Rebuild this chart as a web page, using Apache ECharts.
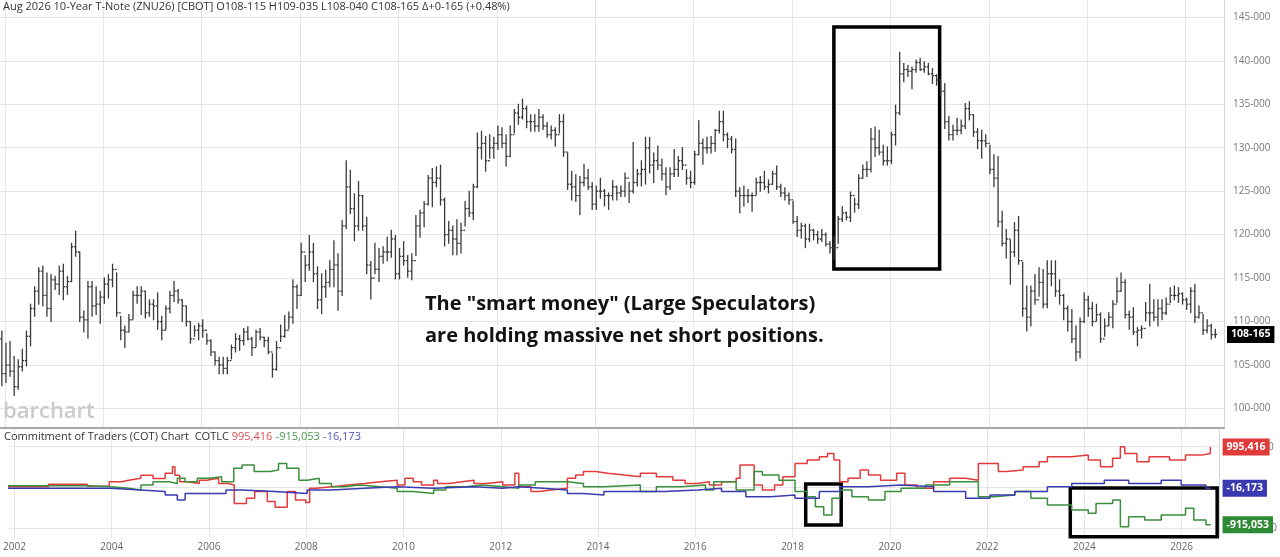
<!DOCTYPE html>
<html><head><meta charset="utf-8">
<script src="https://cdn.jsdelivr.net/npm/echarts@6/dist/echarts.min.js"></script>
<style>html,body{margin:0;padding:0;background:#fff}#c{width:1280px;height:557px}</style>
</head><body><div id="c"></div>
<script>
// ---- Monthly OHLC, first bar Dec 2001, last bar Aug 2026 ----
const firstBarYear = 2001, firstBarMonth = 12;
const firstOpen = 108.0;
const high = [
108.9,
107.5,107.7,106.0,105.6,106.8,108.9,112.0,114.0,116.2,116.4,115.6,115.4,
115.2,116.4,116.6,115.2,119.0,120.4,118.0,111.2,114.6,114.6,114.0,113.5,
115.0,115.4,116.6,115.6,110.6,109.5,110.8,113.5,114.0,114.0,113.5,112.5,
112.5,113.3,110.6,111.8,113.5,114.6,113.7,112.5,111.8,110.0,109.5,109.8,
110.2,108.6,107.9,106.5,105.9,105.9,105.9,107.3,108.6,108.4,109.2,109.4,
108.2,109.0,109.2,108.2,108.2,106.3,107.7,109.6,110.7,111.1,114.8,114.2,
119.0,117.6,119.9,119.0,116.3,115.5,115.9,117.0,119.3,117.8,121.6,128.5,
127.4,124.7,126.1,124.5,122.0,116.9,119.0,118.4,118.6,119.7,120.5,119.9,
118.4,119.2,117.6,117.8,122.2,122.8,123.8,126.8,127.6,127.8,128.0,124.2,
121.5,121.0,121.7,121.3,123.8,125.0,125.8,131.7,131.9,131.3,131.5,131.2,
132.5,132.3,131.5,132.5,134.4,135.0,135.6,134.8,133.8,133.8,134.4,133.8,
132.9,132.5,132.3,133.8,133.8,129.4,127.3,126.9,126.7,128.1,127.5,126.0,
125.6,126.5,125.2,124.8,126.2,125.6,125.6,127.1,126.0,130.6,127.5,128.5,
131.2,131.2,129.4,130.2,128.7,127.7,127.7,129.8,129.0,130.0,127.5,127.3,
129.6,133.1,131.0,131.2,131.3,132.1,134.2,134.2,131.7,131.3,131.0,125.4,
125.6,125.2,124.8,126.5,126.7,127.3,126.3,127.3,127.9,125.8,125.4,124.8,
123.8,122.1,121.3,121.2,121.2,120.6,120.4,120.6,120.2,119.2,119.8,122.1,
123.2,122.6,124.9,124.2,126.9,128.0,128.4,132.2,132.4,132.0,130.3,130.1,
131.8,134.9,141.0,139.7,139.5,139.3,140.1,140.3,139.9,139.7,139.1,138.4,
137.8,137.4,133.6,132.6,133.4,133.2,135.1,135.3,133.8,132.2,132.0,131.5,
130.3,129.2,129.0,122.7,120.6,119.4,121.4,122.1,116.8,114.1,114.1,115.4,
116.2,116.0,117.0,117.0,117.0,114.8,113.1,111.8,111.4,109.5,110.4,113.3,
112.9,112.2,112.0,111.0,110.3,111.0,112.4,115.0,115.6,114.8,111.2,111.6,
109.3,109.5,112.2,114.3,112.5,112.5,112.5,112.7,113.9,114.1,113.9,113.3,
112.7,113.9,114.3,111.8,110.8,110.2,109.7,109.109
];
const low = [
102.6,
103.0,103.7,101.5,102.2,104.3,104.9,107.2,110.6,112.0,111.8,110.6,110.0,
113.7,113.1,112.5,113.1,114.6,117.5,110.0,108.8,108.1,110.6,110.8,109.8,
112.1,112.7,114.0,110.6,107.9,107.0,108.8,110.3,112.1,110.8,110.4,110.6,
110.2,109.1,107.9,109.1,111.0,112.3,112.1,110.0,109.5,107.5,108.3,107.9,
108.2,107.4,106.1,105.0,104.0,104.0,104.0,105.7,106.5,106.7,107.3,107.9,
106.1,107.1,107.9,107.1,106.3,103.6,104.4,107.7,108.2,109.2,109.8,111.5,
113.0,114.6,115.9,114.6,111.5,110.9,112.8,114.0,114.0,111.3,113.0,120.7,
122.4,119.3,120.5,120.5,115.5,112.6,115.5,114.6,116.7,117.0,117.4,114.9,
114.9,116.5,115.1,114.8,117.6,119.7,120.9,123.4,123.2,125.5,123.4,118.7,
119.0,117.7,117.7,117.9,121.0,122.1,121.7,125.4,128.7,127.3,128.8,128.8,
129.8,130.0,127.9,129.0,131.7,132.7,133.3,132.3,131.9,131.9,131.9,132.1,
131.2,131.0,130.2,131.7,129.0,125.2,124.0,123.8,122.3,125.6,125.2,122.9,
122.9,124.2,123.3,122.9,124.0,124.0,124.4,124.4,123.7,124.8,125.6,125.6,
125.8,127.1,126.0,127.5,126.3,124.6,125.2,126.7,126.7,127.5,125.8,125.4,
125.8,129.2,128.1,129.4,129.4,129.6,131.7,130.8,130.0,129.4,124.4,122.5,
123.3,123.7,122.7,124.6,125.0,125.2,124.8,125.8,125.2,124.4,124.0,123.5,
121.3,119.8,119.6,118.5,119.2,119.4,119.0,119.2,118.7,117.9,117.2,119.0,
121.5,121.7,121.5,122.6,123.0,126.5,126.7,127.2,129.0,129.2,128.0,128.0,
128.2,130.3,133.8,137.6,138.2,136.8,138.7,138.9,138.7,138.4,137.4,137.2,
136.0,132.2,130.9,130.9,131.5,131.6,132.2,133.2,131.3,129.9,128.8,130.1,
127.0,125.5,120.9,118.7,117.3,114.3,117.5,116.6,110.6,108.9,109.5,112.0,
112.9,111.6,111.6,114.1,112.9,112.0,110.2,108.9,107.6,105.5,105.8,109.9,
110.6,109.5,110.1,107.6,108.3,109.5,109.3,112.2,113.5,110.4,109.1,108.5,
107.2,108.1,110.1,109.5,110.1,109.5,110.2,110.8,112.2,112.5,112.2,112.0,
111.4,111.0,109.9,110.4,108.5,108.7,108.0,108.125
];
const close = [
104.0,
105.0,104.3,102.5,104.8,105.5,108.3,111.5,113.5,115.8,113.0,111.5,114.8,
114.3,115.8,114.0,114.6,118.6,118.0,110.5,110.2,114.0,111.8,112.0,112.8,
114.3,114.8,116.0,111.0,109.0,108.8,110.2,113.0,113.0,113.5,111.0,112.0,
111.8,110.0,109.0,111.5,113.0,113.5,112.5,111.8,110.0,108.0,109.0,109.5,
109.0,107.8,106.5,105.5,105.0,104.6,105.5,107.0,108.0,107.8,108.8,108.0,
107.0,108.8,108.2,107.8,106.5,104.5,107.0,108.3,109.0,110.5,114.0,113.0,
118.0,116.5,118.0,115.5,112.5,114.0,114.5,116.0,116.5,113.5,121.0,125.5,
123.0,121.0,124.5,121.0,116.5,115.0,116.0,117.5,118.0,118.0,119.5,115.5,
117.5,117.0,115.8,117.0,121.0,122.5,123.5,126.5,126.0,126.5,124.0,120.0,
120.5,119.5,119.0,120.5,123.0,122.5,125.5,130.0,130.5,128.5,130.0,130.5,
131.5,130.5,129.0,131.5,134.0,133.5,134.5,133.0,133.0,132.5,133.5,132.5,
131.5,132.0,131.5,133.0,129.5,125.8,125.5,124.5,126.0,126.5,125.5,123.5,
125.0,125.0,124.5,124.5,125.5,124.8,125.0,126.5,125.0,126.0,127.0,127.5,
130.0,128.0,128.5,128.0,127.0,125.5,127.0,127.5,128.5,128.0,126.5,126.0,
129.2,130.5,130.0,130.0,130.5,132.0,133.0,131.5,131.0,129.8,125.0,124.5,
124.5,124.5,124.5,126.0,126.0,125.5,125.8,127.0,125.5,124.8,124.5,124.0,
121.5,120.5,121.0,119.5,120.5,120.0,119.5,120.0,118.9,118.5,118.5,121.8,
122.5,122.0,124.5,123.5,126.5,127.5,127.5,131.0,130.0,129.5,128.5,128.5,
131.5,134.0,138.5,139.0,138.8,139.0,139.8,139.0,139.3,138.5,138.3,137.8,
136.5,133.0,131.5,132.0,132.0,132.5,134.5,133.8,131.8,130.8,130.8,130.5,
127.5,126.5,121.5,119.0,119.5,118.0,120.5,117.0,111.5,110.5,113.5,112.5,
114.5,112.0,115.5,115.5,113.5,113.0,111.5,110.0,108.0,106.5,110.0,112.5,
111.5,110.0,110.8,108.0,109.5,110.5,112.0,113.5,114.5,110.8,110.5,108.8,
109.0,109.2,111.0,111.0,110.5,111.5,111.0,112.0,113.0,113.0,113.2,112.5,
112.0,113.5,110.5,111.0,109.0,109.5,108.5,108.515625
];

// ---- COT step series (time in years, value in thousands of contracts) ----
const redT = [2001.85,2002.7,2003.5,2003.95,2004.2,2004.35,2004.6,2004.85,2005.1,2005.25,2005.3,2005.4,2005.55,2005.8,2005.95,2006.2,2006.4,2006.52,2006.77,2006.94,2007.2,2007.36,2007.61,2007.78,2007.99,2008.07,2008.2,2008.53,2008.86,2009.2,2009.53,2009.87,2010.03,2010.2,2010.37,2010.62,2010.7,2010.95,2011.2,2011.45,2011.7,2012.04,2012.29,2012.37,2012.62,2012.79,2013.04,2013.37,2013.54,2013.7,2013.95,2014.2,2014.54,2014.87,2015.2,2015.54,2015.79,2016.04,2016.29,2016.54,2016.84,2016.92,2017.21,2017.38,2017.63,2017.8,2018.05,2018.3,2018.55,2018.72,2018.85,2018.97,2019.14,2019.39,2019.56,2019.81,2020.14,2020.31,2020.56,2020.9,2021.23,2021.56,2021.82,2022.23,2022.4,2022.74,2023.07,2023.24,2023.74,2024.08,2024.33,2024.58,2024.74,2024.83,2025.08,2025.33,2025.75,2026.08,2026.42,2026.59,2026.6];
const redV = [20,80,30,140,180,225,300,220,350,510,300,140,100,180,225,100,60,-390,-265,-100,-345,-485,-100,-305,-370,-20,20,60,100,140,180,60,225,140,60,180,100,140,180,100,140,60,350,20,-100,-60,-20,225,305,390,350,305,265,350,265,180,100,140,60,140,225,550,60,-60,60,265,590,675,755,835,675,140,225,430,305,180,350,60,-20,140,225,180,590,390,430,510,630,755,795,675,510,715,1000,835,630,755,675,795,835,995.416,995.416];
const greenT = [2001.85,2003.5,2003.98,2004.35,2004.6,2004.85,2005.18,2005.35,2005.51,2005.76,2006.01,2006.26,2006.51,2006.68,2006.93,2007.26,2007.43,2007.6,2007.85,2008.02,2008.27,2008.52,2008.77,2009.1,2009.53,2009.87,2010.2,2010.62,2010.87,2011.29,2011.62,2012.04,2012.37,2012.71,2013.37,2013.7,2014.12,2014.87,2015.2,2015.71,2016.21,2016.38,2016.84,2017.21,2017.38,2017.72,2018.05,2018.3,2018.47,2018.64,2018.81,2018.97,2019.22,2019.56,2019.9,2020.23,2020.73,2021.23,2021.82,2022.15,2022.57,2022.9,2023.24,2023.74,2024.08,2024.24,2024.58,2024.74,2024.91,2025.24,2025.58,2026.08,2026.25,2026.5,2026.6];
const greenV = [45,20,-20,-60,60,140,100,225,140,225,265,140,470,550,390,430,590,470,180,225,100,20,60,20,-20,-100,-145,-60,20,60,20,-20,60,140,100,20,60,-100,20,60,-60,140,-60,390,305,180,-100,-225,-470,-675,-265,-60,-225,-305,-100,-20,60,140,-225,-185,-100,-265,-430,-550,-630,-390,-305,-960,-715,-795,-675,-510,-795,-915.053,-915.053];
const blueT = [2001.85,2003.98,2004.6,2005.1,2005.35,2005.51,2006.35,2006.68,2007.35,2008.02,2008.52,2009.2,2009.87,2010.62,2011.45,2012.04,2012.37,2012.87,2013.37,2013.7,2014.12,2015.37,2016.04,2016.54,2017.04,2017.55,2018.05,2018.55,2018.97,2019.56,2020.23,2020.9,2021.56,2022.06,2022.57,2023.24,2023.74,2024.41,2024.91,2025.58,2025.99,2026.5,2026.6];
const blueV = [-20,-60,-100,-185,-305,-145,-60,-100,-145,-60,-20,20,-20,20,-20,20,-20,-60,-145,-185,-100,-60,-20,-100,-225,-185,-265,-100,20,60,20,-100,-265,-185,-100,20,100,180,100,180,60,-16.173,-16.173];
const cotLast = {red: 995416, green: -915053, blue: -16173};

// ---- Annotation boxes (data coordinates) ----
const priceBox = [[2018.85, 143.9], [2021.0, 116.05]];
const cotBoxA = [[2018.27, 86], [2019.0, -920]];
const cotBoxB = [[2023.71, -12], [2026.73, -1205]];

const headerText = 'Aug 2026 10-Year T-Note (ZNU26) [CBOT] O108-115 H109-035 L108-040 C108-165 \u0394+0-165 (+0.48%)';
const noteLines = ['The "smart money" (Large Speculators)', 'are holding massive net short positions.'];

// ---- build ----
const barTime = i => firstBarYear + (firstBarMonth - 1 + i) / 12 + 1 / 48;
const ohlc = high.map((h, i) => [barTime(i), i === 0 ? firstOpen : close[i - 1], h, low[i], close[i]]);
const closeLine = close.map((c, i) => [barTime(i), c]);
const pairs = (T, V) => T.map((t, i) => [t, V[i]]);
const fmtPrice = v => { const n = Math.floor(v + 1e-9); const f = Math.round((v - n) * 320); return n + '-' + String(f).padStart(3, '0'); };
const fmtK = v => Math.round(v * 1000).toLocaleString('en-US');

const FONT = 'Open Sans';
const gridLine = {show: true, lineStyle: {color: '#e6e6e6', width: 1}, showMinLine: false, showMaxLine: false};
const xMin = 2001.9, xMax = 2026.78;

const chart = echarts.init(document.getElementById('c'));
const boxStyle = {color: 'rgba(0,0,0,0)', borderColor: '#000', borderWidth: 3.5};
const valLabel = (bg, text) => ({show: true, position: 'end', distance: 3, formatter: text, backgroundColor: bg, color: '#fff', fontWeight: 'bold', fontSize: 10.5, fontFamily: FONT, padding: [3, 4, 3, 4], opacity: 1});
const hiddenLine = {color: 'rgba(0,0,0,0)', width: 1, type: 'solid'};

chart.setOption({
  animation: false,
  textStyle: {fontFamily: FONT},
  grid: [
    {left: 0, right: 56, top: 0, height: 428},
    {left: 0, right: 56, top: 428, bottom: 20}
  ],
  xAxis: [
    {type: 'value', gridIndex: 0, min: xMin, max: xMax, splitNumber: 12,
     axisLabel: {show: false}, axisTick: {show: false},
     axisLine: {show: true, lineStyle: {color: '#a8a8a8', width: 2}},
     splitLine: gridLine},
    {type: 'value', gridIndex: 1, min: xMin, max: xMax, splitNumber: 12,
     axisLabel: {show: true, color: '#666', fontSize: 10, margin: 5, showMinLabel: false, showMaxLabel: false, formatter: v => String(Math.round(v))},
     axisTick: {show: false}, axisLine: {show: false},
     splitLine: gridLine}
  ],
  yAxis: [
    {type: 'value', gridIndex: 0, position: 'right', min: 97.75, max: 147, splitNumber: 10,
     axisLabel: {color: '#777', fontSize: 10, margin: 9, formatter: fmtPrice, showMinLabel: false, showMaxLabel: false},
     axisTick: {show: false}, axisLine: {show: true, lineStyle: {color: '#d4d4d4'}},
     splitLine: gridLine},
    {type: 'value', gridIndex: 1, position: 'right', min: -1213, max: 1458, splitNumber: 3,
     axisLabel: {color: '#777', fontSize: 10, margin: 9, formatter: fmtK, showMinLabel: false, showMaxLabel: false},
     axisTick: {show: false}, axisLine: {show: true, lineStyle: {color: '#d4d4d4'}},
     splitLine: gridLine}
  ],
  series: [
    {type: 'custom', xAxisIndex: 0, yAxisIndex: 0, data: ohlc, encode: {x: 0, y: [1, 2, 3, 4]}, clip: true, silent: true,
     renderItem: (params, api) => {
       const t = api.value(0);
       const pO = api.coord([t, api.value(1)]), pH = api.coord([t, api.value(2)]);
       const pL = api.coord([t, api.value(3)]), pC = api.coord([t, api.value(4)]);
       const st = {stroke: '#3a3a3a', lineWidth: 1.3};
       return {type: 'group', children: [
         {type: 'line', shape: {x1: pH[0], y1: pH[1] - 0.5, x2: pL[0], y2: pL[1] + 0.5}, style: st},
         {type: 'line', shape: {x1: pO[0] - 1.7, y1: pO[1], x2: pO[0], y2: pO[1]}, style: st},
         {type: 'line', shape: {x1: pC[0], y1: pC[1], x2: pC[0] + 1.7, y2: pC[1]}, style: st}
       ]};
     }},
    {type: 'line', xAxisIndex: 0, yAxisIndex: 0, data: closeLine, symbol: 'none', silent: true, clip: false,
     lineStyle: hiddenLine, z: 1,
     markLine: {silent: true, symbol: 'none', lineStyle: hiddenLine, z: 20,
       data: [{yAxis: close[close.length - 1]}], label: valLabel('#000', fmtPrice(close[close.length - 1]))},
     markArea: {silent: true, itemStyle: boxStyle,
       data: [[{coord: priceBox[0]}, {coord: priceBox[1]}]]}},
    {type: 'line', xAxisIndex: 1, yAxisIndex: 1, data: pairs(redT, redV), step: 'end', symbol: 'none', silent: true, clip: false,
     lineStyle: {color: '#e23b3b', width: 1.5},
     markLine: {silent: true, symbol: 'none', lineStyle: hiddenLine, z: 20, data: [{yAxis: cotLast.red / 1000}],
       label: valLabel('#e03a3a', cotLast.red.toLocaleString('en-US'))}},
    {type: 'line', xAxisIndex: 1, yAxisIndex: 1, data: pairs(greenT, greenV), step: 'end', symbol: 'none', silent: true, clip: false,
     lineStyle: {color: '#3a8f3a', width: 1.5},
     markLine: {silent: true, symbol: 'none', lineStyle: hiddenLine, z: 20, data: [{yAxis: cotLast.green / 1000}],
       label: valLabel('#2f8a35', cotLast.green.toLocaleString('en-US'))}},
    {type: 'line', xAxisIndex: 1, yAxisIndex: 1, data: pairs(blueT, blueV), step: 'end', symbol: 'none', silent: true, clip: false,
     lineStyle: {color: '#3b3bb0', width: 1.5},
     markLine: {silent: true, symbol: 'none', lineStyle: hiddenLine, z: 20, data: [{yAxis: cotLast.blue / 1000}],
       label: valLabel('#3a3ab0', cotLast.blue.toLocaleString('en-US'))},
     markArea: {silent: true, itemStyle: boxStyle,
       data: [[{coord: cotBoxA[0]}, {coord: cotBoxA[1]}], [{coord: cotBoxB[0]}, {coord: cotBoxB[1]}]]}}
  ],
  graphic: [
    {type: 'text', left: 3, top: 1, z: 10, style: {text: headerText, fill: '#333', font: '11px "Open Sans"'}},
    {type: 'text', left: 3, top: 401, z: 10, style: {text: 'barchart', fill: '#cacaca', font: '600 22px "Open Sans"'}},
    {type: 'text', left: 425, top: 288, z: 10, style: {text: noteLines.join('\n'), fill: '#111', font: 'bold 20px "Open Sans"', lineHeight: 32}},
    {type: 'text', left: 4, top: 431, z: 10, style: {
      text: '{d|Commitment of Traders (COT) Chart  COTLC }{r|' + cotLast.red.toLocaleString('en-US') + '} {g|' + cotLast.green.toLocaleString('en-US') + '} {b|' + cotLast.blue.toLocaleString('en-US') + '}',
      rich: {d: {fill: '#333', fontSize: 11, fontFamily: FONT}, r: {fill: '#e05050', fontSize: 11, fontFamily: FONT},
             g: {fill: '#4a9a4a', fontSize: 11, fontFamily: FONT}, b: {fill: '#5050c0', fontSize: 11, fontFamily: FONT}}}}
  ]
});
</script></body></html>
